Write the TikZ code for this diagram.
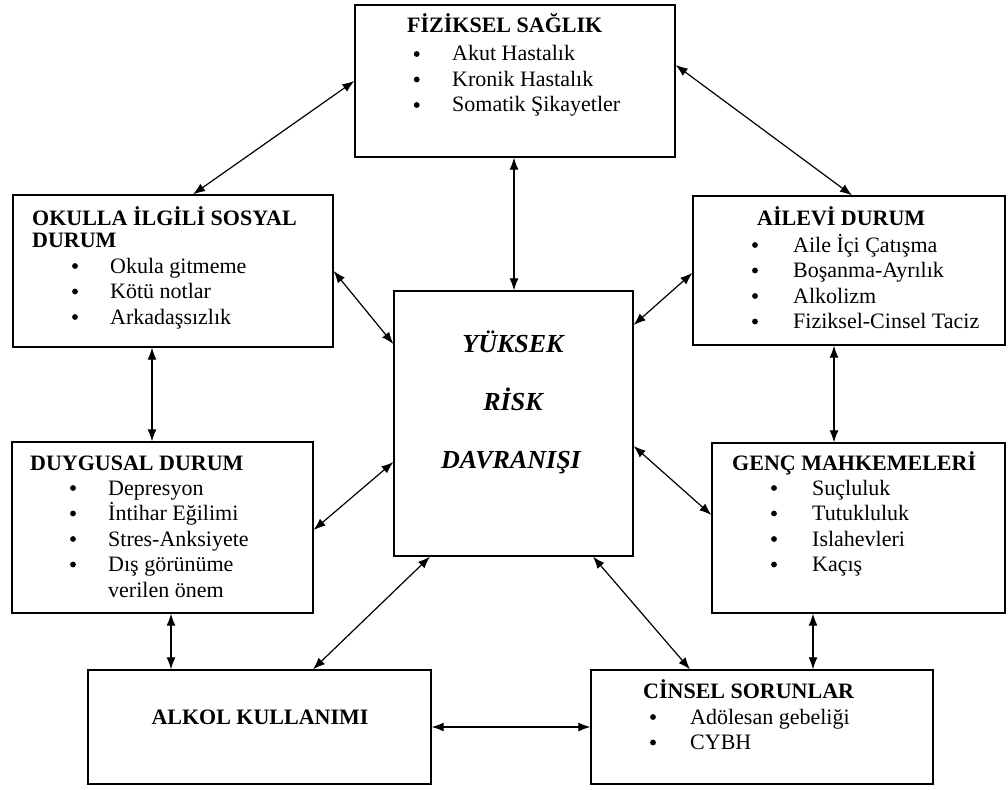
\documentclass[tikz,border=0pt]{standalone}
\usepackage{fontspec}
\setmainfont{Liberation Serif}
\usetikzlibrary{arrows.meta}
\begin{document}
\begin{tikzpicture}[x=1pt,y=-1pt,
  box/.style={draw, line width=1.3pt, inner sep=0pt, fill=white},
  con/.style={{Latex[length=12pt,width=9pt]}-{Latex[length=12pt,width=9pt]}, line width=1.2pt},
  hd/.style={anchor=base west, inner sep=0pt, font=\fontsize{22}{25.5}\selectfont\bfseries},
  lst/.style={anchor=base west, inner sep=0pt, font=\fontsize{22}{25.5}\selectfont},
  ctr/.style={anchor=base, inner sep=0pt, font=\fontsize{26}{30}\selectfont\bfseries\itshape},
  dot/.style={fill=black}]
\useasboundingbox (0,0) rectangle (1008,789);
\fill[white] (0,0) rectangle (1008,789);
% boxes
\node[box, minimum width=320pt, minimum height=152pt] (fiz) at (515,81) {};
\node[box, minimum width=320pt, minimum height=152pt] (oku) at (173,271) {};
\node[box, minimum width=312pt, minimum height=149pt] (ail) at (849,270.5) {};
\node[box, minimum width=239pt, minimum height=265pt] (cen) at (513.5,423.5) {};
\node[box, minimum width=301pt, minimum height=171pt] (duy) at (162.5,527.5) {};
\node[box, minimum width=293pt, minimum height=170pt] (gen) at (858.5,528) {};
\node[box, minimum width=343pt, minimum height=114pt] (alk) at (259.5,727) {};
\node[box, minimum width=342pt, minimum height=114pt] (cin) at (762,727) {};
% headings
\node[hd] (fizh) at (407,33) {FİZİKSEL SAĞLIK};
\node[hd] (okuh) at (32,225) {\begin{tabular}[t]{@{}l@{}}OKULLA İLGİLİ SOSYAL\\[-3.5pt]DURUM\end{tabular}};
\node[hd] (ailh) at (757,225) {AİLEVİ DURUM};
\node[hd] (duyh) at (30,470) {DUYGUSAL DURUM};
\node[hd] (genh) at (732,470) {GENÇ MAHKEMELERİ};
\node[hd] (cinh) at (643,698) {CİNSEL SORUNLAR};
\node[hd, anchor=base] (alkh) at (260,724) {ALKOL KULLANIMI};
% item lists
\node[lst] (fizl) at (452,61) {\begin{tabular}[t]{@{}l@{}}Akut Hastalık\\ Kronik Hastalık\\ Somatik Şikayetler\end{tabular}};
\node[lst] (okul) at (110,273) {\begin{tabular}[t]{@{}l@{}}Okula gitmeme\\ Kötü notlar\\ Arkadaşsızlık\end{tabular}};
\node[lst] (aill) at (793,252) {\begin{tabular}[t]{@{}l@{}}Aile İçi Çatışma\\ Boşanma-Ayrılık\\ Alkolizm\\ Fiziksel-Cinsel Taciz\end{tabular}};
\node[lst] (duyl) at (108,495) {\begin{tabular}[t]{@{}l@{}}Depresyon\\ İntihar Eğilimi\\ Stres-Anksiyete\\ Dış görünüme\\ verilen önem\end{tabular}};
\node[lst] (genl) at (812,495) {\begin{tabular}[t]{@{}l@{}}Suçluluk\\ Tutukluluk\\ Islahevleri\\ Kaçış\end{tabular}};
\node[lst] (cinl) at (690,724) {\begin{tabular}[t]{@{}l@{}}Adölesan gebeliği\\ CYBH\end{tabular}};
% bullets
\foreach \i in {0,1,2} \fill[dot] ({416.7},{54+25.5*\i}) circle (2.9pt);
\foreach \i in {0,1,2} \fill[dot] ({75},{266+25.5*\i}) circle (2.9pt);
\foreach \i in {0,1,2,3} \fill[dot] ({755},{245+25.5*\i}) circle (2.9pt);
\foreach \i in {0,1,2,3} \fill[dot] ({73},{488+25.5*\i}) circle (2.9pt);
\foreach \i in {0,1,2,3} \fill[dot] ({774},{488+25.5*\i}) circle (2.9pt);
\foreach \i in {0,1} \fill[dot] ({653},{717+25.5*\i}) circle (2.9pt);
% centre text
\node[ctr] (c1) at (513,352) {YÜKSEK};
\node[ctr] (c2) at (513,410) {RİSK};
\node[ctr] (c3) at (511,468) {DAVRANIŞI};
% connectors
\draw[con] (fiz.west) -- ([xshift=20pt]oku.north);
\draw[con] ([yshift=16pt]fiz.east) -- ([xshift=3pt]ail.north);
\draw[con] ([xshift=-1pt]fiz.south) -- ([xshift=0.5pt]cen.north);
\draw[con] (oku.east) -- ([yshift=79.5pt]cen.west);
\draw[con] ([yshift=-2.5pt]ail.west) -- ([yshift=98.5pt]cen.east);
\draw[con] ([xshift=-21pt]oku.south) -- ([xshift=-10.5pt]duy.north);
\draw[con] ([xshift=-15pt]ail.south) -- ([xshift=-24.5pt]gen.north);
\draw[con] ([yshift=-2.5pt]duy.east) -- ([yshift=-38.5pt]cen.west);
\draw[con] ([yshift=13pt]gen.west) -- ([yshift=-22.5pt]cen.east);
\draw[con] ([xshift=8.5pt]duy.south) -- ([xshift=-88.5pt]alk.north);
\draw[con] ([xshift=-45.5pt]gen.south) -- ([xshift=51pt]cin.north);
\draw[con] ([xshift=-83.5pt]cen.south) -- ([xshift=53.5pt]alk.north);
\draw[con] ([xshift=79.5pt]cen.south) -- ([xshift=-72pt]cin.north);
\draw[con] (alk.east) -- (cin.west);
\end{tikzpicture}
\end{document}
